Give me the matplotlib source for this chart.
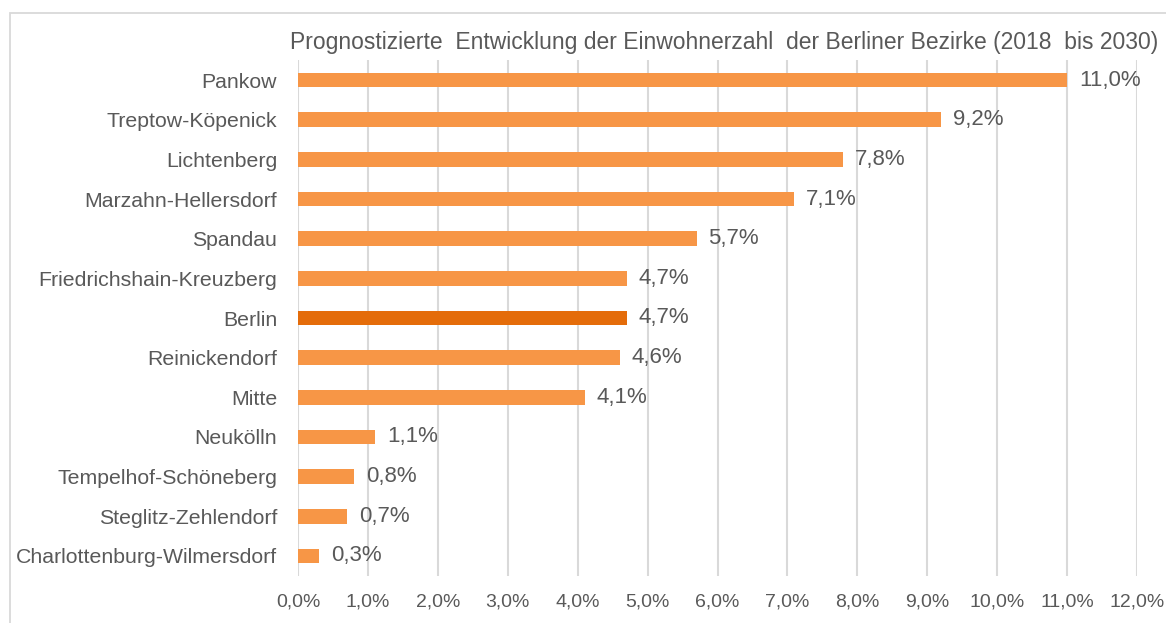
import matplotlib
matplotlib.use("Agg")
import matplotlib.pyplot as plt
from matplotlib.patches import Rectangle
from matplotlib.ticker import FuncFormatter

plt.rcParams["font.family"] = ["Liberation Sans", "DejaVu Sans"]

TITLE = "Prognostizierte  Entwicklung der Einwohnerzahl  der Berliner Bezirke (2018  bis 2030)"
districts = [
    "Pankow", "Treptow-Köpenick", "Lichtenberg", "Marzahn-Hellersdorf", "Spandau",
    "Friedrichshain-Kreuzberg", "Berlin", "Reinickendorf", "Mitte", "Neukölln",
    "Tempelhof-Schöneberg", "Steglitz-Zehlendorf", "Charlottenburg-Wilmersdorf",
]
growth = [11.0, 9.2, 7.8, 7.1, 5.7, 4.7, 4.7, 4.6, 4.1, 1.1, 0.8, 0.7, 0.3]
x_ticks = [0, 1, 2, 3, 4, 5, 6, 7, 8, 9, 10, 11, 12]

BAR = "#F79646"
BAR_TOTAL = "#E46C0A"
TEXT = "#595959"
GRID = "#D9D9D9"

W, H = 1166, 623
fig = plt.figure(figsize=(W / 100, H / 100), dpi=100)
fig.patch.set_facecolor("white")

# chart frame (only left/top edges visible in the picture)
fig.patches.append(Rectangle((10 / W, -0.05), 1.2, 1 - 13 / H + 0.05, transform=fig.transFigure,
                             facecolor="none", edgecolor=GRID, lw=1.3))

ax = fig.add_axes([298 / W, 1 - 575.8 / H, (1137 - 298) / W, (575.8 - 60.2) / H])
y = list(range(len(districts)))
colors = [BAR_TOTAL if d == "Berlin" else BAR for d in districts]
ax.barh(y, growth, height=0.37, color=colors, zorder=3)

for yi, v in zip(y, growth):
    ax.text(v + 0.17, yi, f"{v:.1f}%".replace(".", ","), va="center", ha="left",
            fontsize=16, color=TEXT, zorder=4)

ax.set_xlim(0, 12)
ax.set_ylim(len(districts) - 0.5, -0.5)
ax.set_xticks(x_ticks)
ax.xaxis.set_major_formatter(FuncFormatter(lambda v, p: f"{v:.1f}%".replace(".", ",")))
ax.set_yticks(y)
ax.set_yticklabels(districts)
ax.tick_params(axis="x", length=0, pad=13, labelsize=14, labelcolor=TEXT)
ax.tick_params(axis="y", length=0, pad=15, labelsize=15.3, labelcolor=TEXT)
ax.grid(axis="x", color=GRID, lw=1.5, zorder=0)
for s in ax.spines.values():
    s.set_visible(False)

fig.text(724 / W, 1 - 42 / H, TITLE, ha="center", va="center", fontsize=16.5, color=TEXT)

fig.savefig("out.png", dpi=100)
